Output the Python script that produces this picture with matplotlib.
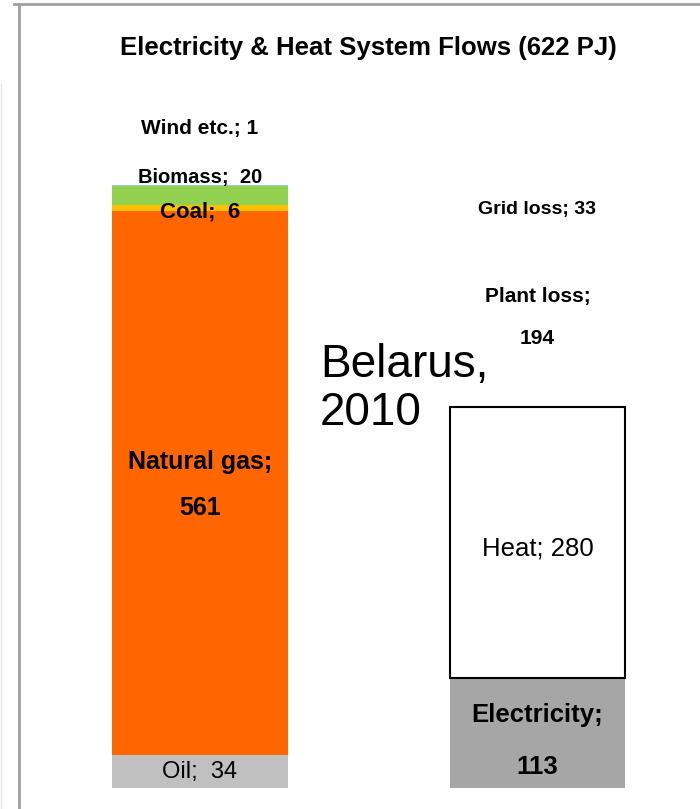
import matplotlib.pyplot as plt
from matplotlib.lines import Line2D

# Data (PJ)
inputs = ["Oil", "Natural gas", "Coal", "Biomass", "Wind etc."]
input_values = [34, 561, 6, 20, 1]
input_colors = ["#C0C0C0", "#FF6600", "#FFC000", "#92D050", "#93CDDD"]

outputs = ["Electricity", "Heat", "Plant loss", "Grid loss"]
output_values = [113, 280, 194, 33]

title = "Electricity & Heat System Flows (622 PJ)"
note = "Belarus,\n2010"

font = ["Liberation Sans", "DejaVu Sans"]

fig = plt.figure(figsize=(7, 8.09), dpi=100)
# y scale ~0.97 px per PJ, bottom of bars at 788 px from top
ax = fig.add_axes([0, 21 / 809, 1, 788 / 809])
ax.set_xlim(0, 700)
ax.set_ylim(0, 788 / 0.97)
ax.axis("off")

x_in, x_out = 200, 537.5
w_in, w_out = 176, 175

# input bar
bottom = 0
in_centers = []
for name, val, col in zip(inputs, input_values, input_colors):
    ax.bar(x_in, val, width=w_in, bottom=bottom, color=col, linewidth=0)
    in_centers.append(bottom + val / 2)
    bottom += val

# output bar
bottom = 0
out_centers = []
for name, val in zip(outputs, output_values):
    if name == "Electricity":
        ax.bar(x_out, val, width=w_out, bottom=bottom, color="#A6A6A6", linewidth=0)
    elif name == "Heat":
        ax.bar(x_out, val, width=w_out, bottom=bottom, facecolor="white",
               edgecolor="black", linewidth=1.5)
    out_centers.append(bottom + val / 2)
    bottom += val

# label style: (offset, size, linespacing)
in_style = {"Oil": (0, 17, 1),
            "Natural gas": (-2, 18, 2.15),
            "Coal": (-4, 16, 1),
            "Biomass": (18, 14.5, 1),
            "Wind etc.": (58, 15, 1)}
for name, val, c in zip(inputs, input_values, in_centers):
    if name == "Natural gas":
        txt = f"{name};\n{val}"
    elif name in ("Oil", "Coal", "Biomass"):
        txt = f"{name};  {val}"
    else:
        txt = f"{name}; {val}"
    off, size, ls = in_style[name]
    weight = "normal" if name == "Oil" else "bold"
    ax.text(x_in, c + off, txt, ha="center", va="center",
            family=font, fontsize=size, fontweight=weight, linespacing=ls)

out_style = {"Electricity": (-8, 18.5, 2.5),
             "Heat": (-6, 18.5, 1),
             "Plant loss": (-5, 15, 2.5),
             "Grid loss": (-7, 14, 1)}
for name, val, c in zip(outputs, output_values, out_centers):
    if name in ("Electricity", "Plant loss"):
        txt = f"{name};\n{val}"
    else:
        txt = f"{name}; {val}"
    off, size, ls = out_style[name]
    weight = "normal" if name == "Heat" else "bold"
    ax.text(x_out, c + off, txt, ha="center", va="center",
            family=font, fontsize=size, fontweight=weight, linespacing=ls)

ax.text(320, (788 - 389) / 0.97, note, ha="left", va="center",
        family=font, fontsize=33, linespacing=1.12)

fig.text(368 / 700, 1 - 48 / 809, title, ha="center", va="center",
         family=font, fontsize=18.5, fontweight="bold")

# frame lines
fig.add_artist(Line2D([14 / 700, 1], [1 - 4 / 809] * 2, color="#A0A0A0", lw=2))
fig.add_artist(Line2D([19 / 700] * 2, [0, 1 - 4 / 809], color="#A0A0A0", lw=2))
fig.add_artist(Line2D([0.5 / 700] * 2, [0, 1 - 84 / 809], color="#E6E6E6", lw=1))

fig.savefig("out.png", dpi=100)
